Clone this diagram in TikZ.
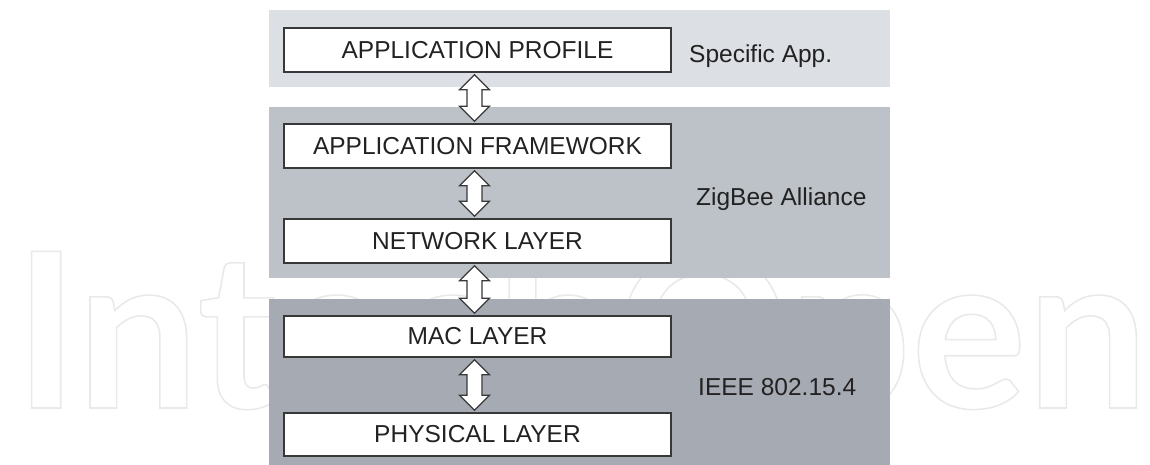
\documentclass[tikz,border=0pt]{standalone}
\usepackage{fontspec}
\setmainfont{Liberation Sans}
\newfontfamily\wmfont{Lato}
\usetikzlibrary{calc}
\definecolor{bandtop}{HTML}{DCDFE3}
\definecolor{bandmid}{HTML}{BDC1C8}
\definecolor{bandbot}{HTML}{A6AAB2}
\definecolor{boxline}{HTML}{383838}
\definecolor{txt}{HTML}{222222}
\definecolor{wmgray}{HTML}{E9E9E9}
\tikzset{
  layerbox/.style={draw=boxline, line width=1.4pt, fill=white, minimum width=387pt,
    inner sep=0pt, text=txt, font=\fontsize{24.5}{29}\selectfont},
  sidelabel/.style={anchor=base west, inner sep=0pt, text=txt, font=\fontsize{24.5}{29}\selectfont},
  dblarrow/.style={draw=boxline, line width=1.2pt, fill=white, line join=miter}
}
\begin{document}
\begin{tikzpicture}[x=1pt,y=-1pt]
\useasboundingbox (0,0) rectangle (1150,465);
% watermark (outlined text)
\node[anchor=base west, inner sep=0pt] (wm) at (14,408)
  {\resizebox{1134pt}{161pt}{\color{wmgray}\wmfont\bfseries\fontsize{220}{220}\selectfont
   \special{pdf:literal direct 1 Tr 1.6 w}IntechOpen\special{pdf:literal direct 0 Tr}}};
% bands
\fill[bandtop] (269,10) rectangle (890,87);
\fill[bandmid] (269,107) rectangle (890,278);
\fill[bandbot] (269,299) rectangle (890,465);
% boxes
\node[layerbox, minimum height=44pt] (prof)  at (477.5,50)  {APPLICATION PROFILE};
\node[layerbox, minimum height=44pt] (frame) at (477.5,146) {APPLICATION FRAMEWORK};
\node[layerbox, minimum height=44pt] (net)   at (477.5,241) {NETWORK LAYER};
\node[layerbox, minimum height=41pt] (mac)   at (477.5,336.5) {MAC LAYER};
\node[layerbox, minimum height=43pt] (phy)   at (477.5,434.5) {PHYSICAL LAYER};
% arrows
\foreach \a/\b in {prof/frame, frame/net, net/mac, mac/phy}{
  \draw[dblarrow] let \p1=(\a.south), \p2=(\b.north), \n1={\x1-3pt} in
    (\n1,\y1-2pt) -- (\n1+15pt,\y1-17pt) -- (\n1+7.5pt,\y1-17pt) -- (\n1+7.5pt,\y2+17pt)
    -- (\n1+15pt,\y2+17pt) -- (\n1,\y2+2pt) -- (\n1-15pt,\y2+17pt) -- (\n1-7.5pt,\y2+17pt)
    -- (\n1-7.5pt,\y1-17pt) -- (\n1-15pt,\y1-17pt) -- cycle;
}
% side labels
\node[sidelabel] (spec) at (689,63) {Specific App.};
\node[sidelabel] (zig)  at (696,205) {ZigBee Alliance};
\node[sidelabel] (ieee) at (698,395) {IEEE 802.15.4};
\end{tikzpicture}
\end{document}
